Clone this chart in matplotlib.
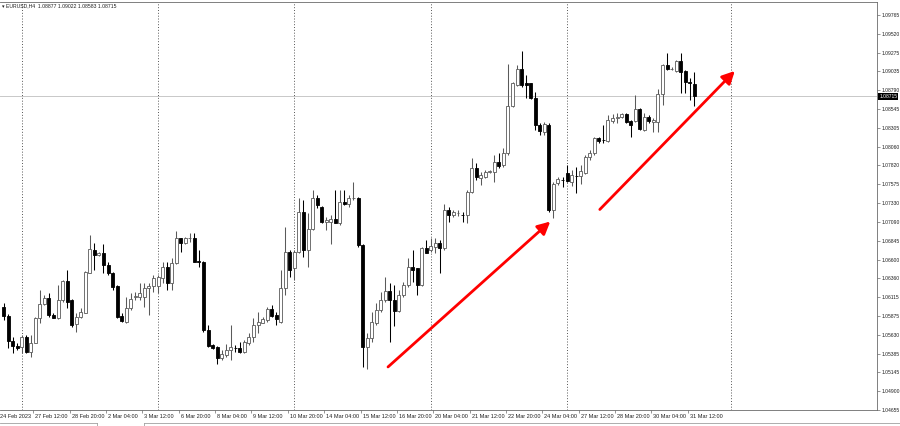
import matplotlib
matplotlib.use("Agg")
import matplotlib.pyplot as plt
from matplotlib.transforms import blended_transform_factory
from matplotlib.lines import Line2D
import numpy as np

symbol_title = "EURUSD,H4  1.08877 1.09022 1.08583 1.08715"

opens = [1.05991, 1.05871, 1.05551, 1.05483, 1.05466, 1.05603, 1.05409, 1.05525, 1.05841, 1.06026,
         1.06100, 1.05884, 1.05841, 1.06078, 1.06324, 1.06078, 1.05768, 1.05858, 1.05914, 1.06431,
         1.06725, 1.06660, 1.06690, 1.06531, 1.06431, 1.06259, 1.05871, 1.05797, 1.05971, 1.06113,
         1.06121, 1.06121, 1.06229, 1.06259, 1.06263, 1.06358, 1.06509, 1.06294, 1.06553, 1.06876,
         1.06812, 1.06876, 1.06876, 1.06583, 1.06574, 1.05686, 1.05496, 1.05474, 1.05324, 1.05366,
         1.05431, 1.05457, 1.05457, 1.05409, 1.05526, 1.05599, 1.05755, 1.05784, 1.05819, 1.05958,
         1.05884, 1.05797, 1.06229, 1.06703, 1.06488, 1.06703, 1.07213, 1.06725, 1.06999, 1.07394,
         1.07285, 1.07083, 1.07091, 1.07122, 1.07078, 1.07342, 1.07316, 1.07394, 1.07394, 1.06789,
         1.05474, 1.05582, 1.05777, 1.05949, 1.06078, 1.06198, 1.06078, 1.05940, 1.06143, 1.06272,
         1.06509, 1.06488, 1.06272, 1.06747, 1.06725, 1.06768, 1.06816, 1.06747, 1.07243, 1.07178,
         1.07200, 1.07178, 1.07178, 1.07479, 1.07781, 1.07660, 1.07673, 1.07738, 1.07738, 1.07867,
         1.07824, 1.07976, 1.08587, 1.08859, 1.09063, 1.08881, 1.08881, 1.08687, 1.08342, 1.08255,
         1.08342, 1.07243, 1.07588, 1.07631, 1.07717, 1.07608, 1.07682, 1.07682, 1.07725, 1.07924,
         1.07976, 1.08177, 1.08148, 1.08135, 1.08394, 1.08429, 1.08441, 1.08480, 1.08397, 1.08397,
         1.08545, 1.08277, 1.08441, 1.08384, 1.08384, 1.08743, 1.09118, 1.09063, 1.09044, 1.09174,
         1.09041, 1.08902, 1.08877]

highs = [1.06039, 1.05897, 1.05603, 1.05522, 1.05625, 1.05625, 1.05625, 1.05862, 1.06207, 1.06143,
         1.06165, 1.05910, 1.06272, 1.06337, 1.06466, 1.06091, 1.05906, 1.05971, 1.06459, 1.06919,
         1.06812, 1.06699, 1.06803, 1.06574, 1.06444, 1.06272, 1.05906, 1.06121, 1.06165, 1.06182,
         1.06298, 1.06294, 1.06298, 1.06401, 1.06401, 1.06574, 1.06574, 1.06617, 1.06971, 1.06884,
         1.06897, 1.06949, 1.06941, 1.06725, 1.06587, 1.05755, 1.05509, 1.05483, 1.05431, 1.05509,
         1.05755, 1.05496, 1.05539, 1.05560, 1.05647, 1.05841, 1.05927, 1.05862, 1.05991, 1.06013,
         1.05927, 1.06466, 1.07019, 1.06725, 1.06725, 1.07394, 1.07372, 1.07204, 1.07501, 1.07436,
         1.07294, 1.07156, 1.07178, 1.07501, 1.07501, 1.07501, 1.07436, 1.07609, 1.07415, 1.06800,
         1.05655, 1.05927, 1.06035, 1.06185, 1.06371, 1.06294, 1.06272, 1.06207, 1.06315, 1.06617,
         1.06725, 1.06492, 1.06768, 1.06854, 1.06876, 1.06876, 1.06854, 1.07320, 1.07285, 1.07243,
         1.07243, 1.07221, 1.07501, 1.07911, 1.07846, 1.07738, 1.07760, 1.07760, 1.07954, 1.07976,
         1.08040, 1.09131, 1.08902, 1.09118, 1.09303, 1.08989, 1.08889, 1.08773, 1.08364, 1.08384,
         1.08364, 1.07609, 1.07673, 1.07673, 1.07824, 1.07760, 1.07802, 1.07824, 1.07954, 1.08018,
         1.08190, 1.08190, 1.08342, 1.08471, 1.08484, 1.08501, 1.08497, 1.08493, 1.08407, 1.08730,
         1.08558, 1.08493, 1.08471, 1.08429, 1.08804, 1.09131, 1.09269, 1.09096, 1.09183, 1.09269,
         1.09053, 1.08946, 1.09022]

lows = [1.05819, 1.05457, 1.05392, 1.05431, 1.05392, 1.05388, 1.05344, 1.05518, 1.05777, 1.06013,
        1.05862, 1.05841, 1.05828, 1.06056, 1.05971, 1.05733, 1.05668, 1.05841, 1.05906, 1.06423,
        1.06466, 1.06647, 1.06423, 1.06401, 1.06207, 1.05841, 1.05797, 1.05777, 1.05949, 1.06078,
        1.06078, 1.05991, 1.05884, 1.06185, 1.06164, 1.06294, 1.06207, 1.06207, 1.06544, 1.06703,
        1.06803, 1.06832, 1.06566, 1.06509, 1.05668, 1.05474, 1.05444, 1.05250, 1.05302, 1.05344,
        1.05302, 1.05409, 1.05396, 1.05388, 1.05496, 1.05539, 1.05647, 1.05777, 1.05797, 1.05862,
        1.05755, 1.05784, 1.06143, 1.06380, 1.06337, 1.06682, 1.06634, 1.06509, 1.06984, 1.07264,
        1.07070, 1.06984, 1.06803, 1.07070, 1.07048, 1.07307, 1.07285, 1.07372, 1.06768, 1.05215,
        1.05181, 1.05539, 1.05755, 1.05927, 1.06056, 1.05539, 1.05742, 1.05927, 1.06121, 1.06250,
        1.06315, 1.06143, 1.06259, 1.06682, 1.06703, 1.06682, 1.06423, 1.06725, 1.07091, 1.07156,
        1.07165, 1.07091, 1.07070, 1.07458, 1.07630, 1.07566, 1.07652, 1.07717, 1.07608, 1.07781,
        1.07802, 1.07954, 1.08578, 1.08846, 1.08837, 1.08687, 1.08674, 1.08277, 1.08212, 1.08212,
        1.07221, 1.07135, 1.07566, 1.07544, 1.07608, 1.07553, 1.07466, 1.07579, 1.07708, 1.07889,
        1.07954, 1.08105, 1.08105, 1.08126, 1.08372, 1.08372, 1.08436, 1.08364, 1.08190, 1.08384,
        1.08277, 1.08268, 1.08364, 1.08255, 1.08255, 1.08600, 1.09053, 1.09053, 1.09023, 1.08752,
        1.08752, 1.08665, 1.08583]

closes = [1.05871, 1.05551, 1.05483, 1.05461, 1.05603, 1.05409, 1.05525, 1.05841, 1.06026, 1.06100,
          1.05884, 1.05849, 1.06078, 1.06328, 1.06056, 1.05755, 1.05862, 1.05927, 1.06444, 1.06734,
          1.06660, 1.06682, 1.06531, 1.06423, 1.06250, 1.05862, 1.05810, 1.05971, 1.06091, 1.06126,
          1.06173, 1.06237, 1.06259, 1.06358, 1.06371, 1.06509, 1.06294, 1.06553, 1.06876, 1.06812,
          1.06876, 1.06880, 1.06574, 1.06574, 1.05686, 1.05483, 1.05453, 1.05324, 1.05379, 1.05431,
          1.05470, 1.05453, 1.05409, 1.05539, 1.05603, 1.05755, 1.05797, 1.05828, 1.05958, 1.05871,
          1.05828, 1.06229, 1.06703, 1.06466, 1.06703, 1.07213, 1.06725, 1.06999, 1.07394, 1.07307,
          1.07091, 1.07113, 1.07122, 1.07078, 1.07342, 1.07316, 1.07394, 1.07398, 1.06789, 1.05474,
          1.05582, 1.05797, 1.05949, 1.06078, 1.06198, 1.06078, 1.05940, 1.06143, 1.06272, 1.06509,
          1.06466, 1.06272, 1.06747, 1.06690, 1.06773, 1.06816, 1.06755, 1.07243, 1.07178, 1.07213,
          1.07204, 1.07174, 1.07479, 1.07781, 1.07673, 1.07695, 1.07738, 1.07742, 1.07867, 1.07811,
          1.07976, 1.08587, 1.08881, 1.09063, 1.08859, 1.08859, 1.08687, 1.08342, 1.08268, 1.08355,
          1.07243, 1.07579, 1.07640, 1.07627, 1.07621, 1.07695, 1.07678, 1.07747, 1.07924, 1.07976,
          1.08177, 1.08135, 1.08144, 1.08407, 1.08436, 1.08449, 1.08480, 1.08384, 1.08342, 1.08545,
          1.08286, 1.08441, 1.08390, 1.08407, 1.08743, 1.09118, 1.09063, 1.09066, 1.09174, 1.09023,
          1.08902, 1.08881, 1.08715]

price_ticks = [1.09765, 1.09520, 1.09275, 1.09035, 1.08790, 1.08545, 1.08305, 1.08060, 1.07820,
               1.07575, 1.07330, 1.07090, 1.06845, 1.06600, 1.06360, 1.06115, 1.05875, 1.05630,
               1.05385, 1.05145, 1.04900, 1.04655]

date_labels = ["24 Feb 2023", "27 Feb 12:00", "28 Feb 20:00", "2 Mar 04:00", "3 Mar 12:00",
               "6 Mar 20:00", "8 Mar 04:00", "9 Mar 12:00", "10 Mar 20:00", "14 Mar 04:00",
               "15 Mar 12:00", "16 Mar 20:00", "20 Mar 04:00", "21 Mar 12:00", "22 Mar 20:00",
               "24 Mar 04:00", "27 Mar 12:00", "28 Mar 20:00", "30 Mar 04:00", "31 Mar 12:00"]
date_label_bars = [-0.7] + [7 + 8 * k for k in range(19)]

week_separator_bars = [4, 34, 64, 94, 124, 160]
current_price = 1.08715

# trend arrows: (start bar, start price) -> (end bar, end price)
trend_arrows = [((84.6, 1.05212), (120.3, 1.07093)),
                ((131.2, 1.07249), (160.9, 1.09041))]

# ---------------- figure ----------------
W, H = 900, 426
fig = plt.figure(figsize=(W / 100, H / 100), dpi=100)
fig.patch.set_facecolor("white")
ax_left, ax_right, ax_top, ax_bot = 0, 877, 2, 410
ax = fig.add_axes([ax_left / W, (H - ax_bot) / H, (ax_right - ax_left) / W, (ax_bot - ax_top) / H])

px_per_bar = 4.545
first_bar_px = 3.5
ax.set_xlim(-first_bar_px / px_per_bar, (ax_right - first_bar_px) / px_per_bar)
ax.set_ylim(1.04655, 1.09933)

font = ["Liberation Sans", "DejaVu Sans"]
txt_color = "#202020"

# separators
for b in week_separator_bars:
    ax.axvline(b, color="#404040", lw=0.6, ls=(0, (1.2, 2.2)), zorder=1)

# current price line
ax.axhline(current_price, color="#c8c8c8", lw=0.7, zorder=1)

# candles
x = np.arange(len(opens))
o = np.array(opens); h = np.array(highs); l = np.array(lows); c = np.array(closes)
bull = c >= o
bull_col = "#5a5a5a"
for i in range(len(x)):
    col = bull_col if bull[i] else "black"
    ax.vlines(x[i], l[i], h[i], color=col, lw=0.75, zorder=2)
bw = 0.66
body_lo = np.minimum(o, c)
body_h = np.maximum(np.abs(c - o), 0.00003)
ax.bar(x[bull], body_h[bull], bottom=body_lo[bull], width=bw, color="white",
       edgecolor=bull_col, linewidth=0.6, zorder=3)
ax.bar(x[~bull], body_h[~bull], bottom=body_lo[~bull], width=bw, color="black",
       edgecolor="black", linewidth=0.6, zorder=3)

# arrows
for (sx, sy), (ex, ey) in trend_arrows:
    ax.annotate("", xy=(ex, ey), xytext=(sx, sy),
                arrowprops=dict(arrowstyle="-|>,head_length=0.75,head_width=0.38",
                                color="#ff0000", lw=2.0, shrinkA=0, shrinkB=0,
                                mutation_scale=10), zorder=5)

# spines
ax.spines["left"].set_visible(False)
for s in ["top", "right", "bottom"]:
    ax.spines[s].set_color("#6a6a6a")
    ax.spines[s].set_linewidth(0.6)

# y axis on the right
ax.yaxis.tick_right()
ax.set_yticks(price_ticks)
ax.set_yticklabels([f"{p:.5f}" for p in price_ticks], fontfamily=font)
ax.tick_params(axis="y", direction="out", length=2.0, width=0.5, color="#6a6a6a",
               labelsize=3.6, labelcolor=txt_color, pad=1.0)

# x axis ticks and labels
ax.set_xticks([b - 0.45 for b in date_label_bars[1:]])
ax.set_xticklabels([])
ax.tick_params(axis="x", direction="out", length=2.5, width=0.5, color="#6a6a6a")
tr = blended_transform_factory(ax.transData, ax.transAxes)
yl = -3.6 / (ax_bot - ax_top)
for b, lab in zip(date_label_bars, date_labels):
    ax.text(b, yl, lab, transform=tr, ha="left", va="top", fontsize=4.0,
            family=font, color=txt_color, clip_on=False)

# current price box
trp = blended_transform_factory(ax.transAxes, ax.transData)
ax.text(1.0 + 2.2 / (ax_right - ax_left), current_price, f"{current_price:.5f}", transform=trp,
        ha="left", va="center", fontsize=3.6, family=font, color="white", clip_on=False,
        bbox=dict(facecolor="black", edgecolor="none", pad=0.7), zorder=6)

# title
fig.text(2 / W, 1 - 6 / H, "\u25BE " + symbol_title, ha="left", va="center",
         fontsize=3.7, family=font, color=txt_color)

# bottom tab strip
yb = (H - 423) / H
fig.add_artist(Line2D([0, 97 / W], [yb, yb], color="#a0a0a0", lw=0.6))
fig.add_artist(Line2D([97 / W, 97 / W], [yb, 0], color="#a0a0a0", lw=0.6))
fig.add_artist(Line2D([144 / W, 1], [yb, yb], color="#a0a0a0", lw=0.6))
fig.add_artist(Line2D([144 / W, 144 / W], [yb, 0], color="#a0a0a0", lw=0.6))

fig.savefig("out.png", dpi=100, facecolor="white")
